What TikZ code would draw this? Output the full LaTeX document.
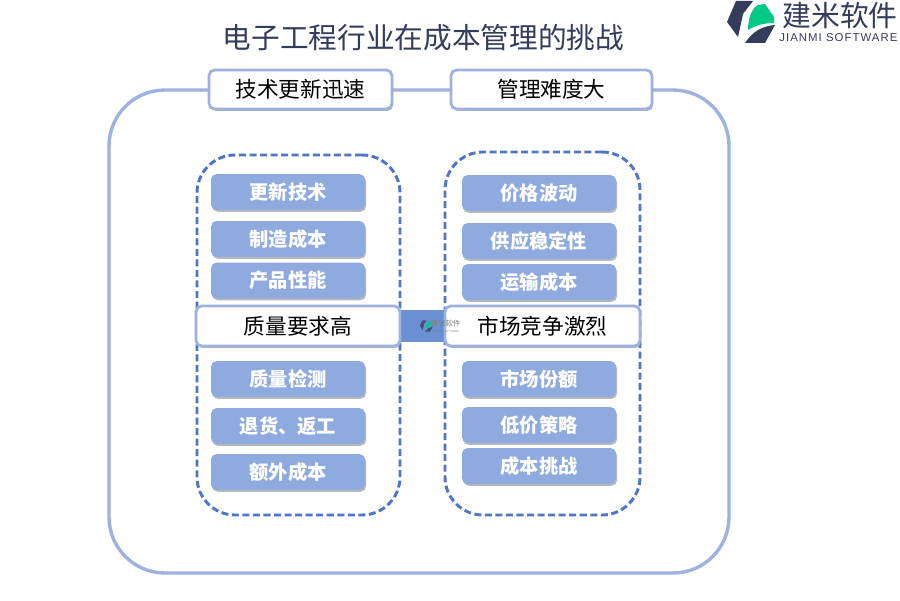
\documentclass[tikz,border=0pt]{standalone}
\usepackage{fontspec}
\setmainfont{Noto Sans CJK SC}
\newfontfamily\logolatin[LetterSpace=9]{Liberation Sans}
\usetikzlibrary{backgrounds,shadows}
\definecolor{logodark}{HTML}{333C5A}
\definecolor{logogreen}{HTML}{00C98A}
\definecolor{panelline}{HTML}{9DB2DE}
\definecolor{dashline}{HTML}{4F76C6}
\definecolor{itemfill}{HTML}{8FAADF}
\definecolor{barfill}{HTML}{6A8FD2}

\begin{document}
\begin{tikzpicture}[
    panel box/.style={
        rectangle,
        rounded corners=1.4cm,
        draw=panelline,
        line width=2.4pt,
        fill=white,
        minimum width=15.5cm,
        minimum height=12.075cm
    },
    group frame/.style={
        rectangle,
        rounded corners=0.95cm,
        draw=dashline,
        dash pattern=on 5pt off 2.5pt,
        line width=2.1pt,
        fill=white,
        minimum height=9cm
    },
    head box/.style={
        rectangle,
        rounded corners=4pt,
        draw=panelline,
        line width=2pt,
        fill=white,
        minimum height=0.975cm,
        font=\fontsize{15.4pt}{18pt}\selectfont,
        text=black,
        drop shadow={opacity=0.6,shadow xshift=0.8pt,shadow yshift=-1.3pt}
    },
    item box/.style={
        rectangle,
        rounded corners=4pt,
        fill=itemfill,
        minimum width=3.85cm,
        minimum height=0.9cm,
        font=\fontsize{13.7pt}{16pt}\selectfont\bfseries,
        text=white,
        drop shadow={opacity=0.55,shadow xshift=0.8pt,shadow yshift=-1.3pt}
    },
    logo mark/.pic={
        \fill[logodark] (-0.35,0.525) -- (0.075,0.525) -- (-0.175,0.2) -- (-0.3,-0.375) -- (-0.575,0) -- cycle;
        \fill[logogreen] (-0.05,-0.2) .. controls (-0.05,0.1) and (0.05,0.35) .. (0.2,0.425)
            -- (0.375,0.45) -- (0.6,0.125) -- (0.6,-0.025)
            .. controls (0.35,-0.02) and (0.1,-0.1) .. (-0.05,-0.2) -- cycle;
        \fill[logodark] (-0.125,-0.525) -- (0.375,-0.525) -- (0.625,-0.075)
            .. controls (0.3,-0.1) and (0.05,-0.25) .. (-0.125,-0.525) -- cycle;
    }
]

\useasboundingbox (0,0) rectangle (22.5,15);

% Title
\node[font=\fontsize{20.4pt}{24pt}\selectfont,text=logodark] (title) at (10.5875,14.07) {电子工程行业在成本管理的挑战};

% Logo
\pic at (18.75,14.45) {logo mark};
\node[font=\fontsize{20.5pt}{24pt}\selectfont,text=logodark] (logoname) at (21,14.6) {建米软件};
\node[font=\logolatin\fontsize{8.1pt}{10pt}\selectfont,text=logodark] (logosub) at (20.96,14.05) {JIANMI SOFTWARE};

% Header boxes
\node[head box,minimum width=4.575cm] (hleft) at (7.5125,12.7625) {技术更新迅速};
\node[head box,minimum width=5.025cm] (hright) at (13.7875,12.7625) {管理难度大};

% Left group
\node[item box] (l1) at (7.2,10.2) {更新技术};
\node[item box] (l2) at (7.2,9.025) {制造成本};
\node[item box] (l3) at (7.2,7.9875) {产品性能};
\node[head box,minimum width=5.1cm,minimum height=1cm] (quality) at (7.45,6.85) {质量要求高};
\node[item box] (l4) at (7.2,5.525) {质量检测};
\node[item box] (l5) at (7.2,4.35) {退货、返工};
\node[item box] (l6) at (7.2,3.2) {额外成本};

% Right group
\node[item box] (r1) at (13.475,10.175) {价格波动};
\node[item box] (r2) at (13.475,8.975) {供应稳定性};
\node[item box] (r3) at (13.475,7.95) {运输成本};
\node[head box,minimum width=4.875cm,minimum height=1cm] (market) at (13.5625,6.85) {市场竞争激烈};
\node[item box] (r4) at (13.475,5.525) {市场份额};
\node[item box] (r5) at (13.475,4.375) {低价策略};
\node[item box] (r6) at (13.475,3.35) {成本挑战};

% Panel, frames and the bar behind the boxes
\begin{scope}[on background layer]
    \fill[white] (0,0) rectangle (22.5,15);
    \node[panel box] (panel) at (10.475,6.7125) {};
    \node[group frame,minimum width=5.075cm] (gleft) at (7.4625,6.625) {};
    \node[group frame,minimum width=4.875cm,minimum height=9.075cm] (gright) at (13.5625,6.6625) {};
    \draw[barfill,line width=23.4pt] (quality) -- (market);
\end{scope}

% Watermark over the bar
\pic[scale=0.27,opacity=0.75] at (10.65,6.85) {logo mark};
\node[font=\fontsize{5.4pt}{6pt}\selectfont,text=gray,inner sep=0pt] (markname) at (11.14,6.92) {建米软件};
\node[font=\logolatin\fontsize{1.9pt}{2pt}\selectfont,text=gray,inner sep=0pt] (marksub) at (11.14,6.72) {JIANMI SOFTWARE};

\end{tikzpicture}
\end{document}
